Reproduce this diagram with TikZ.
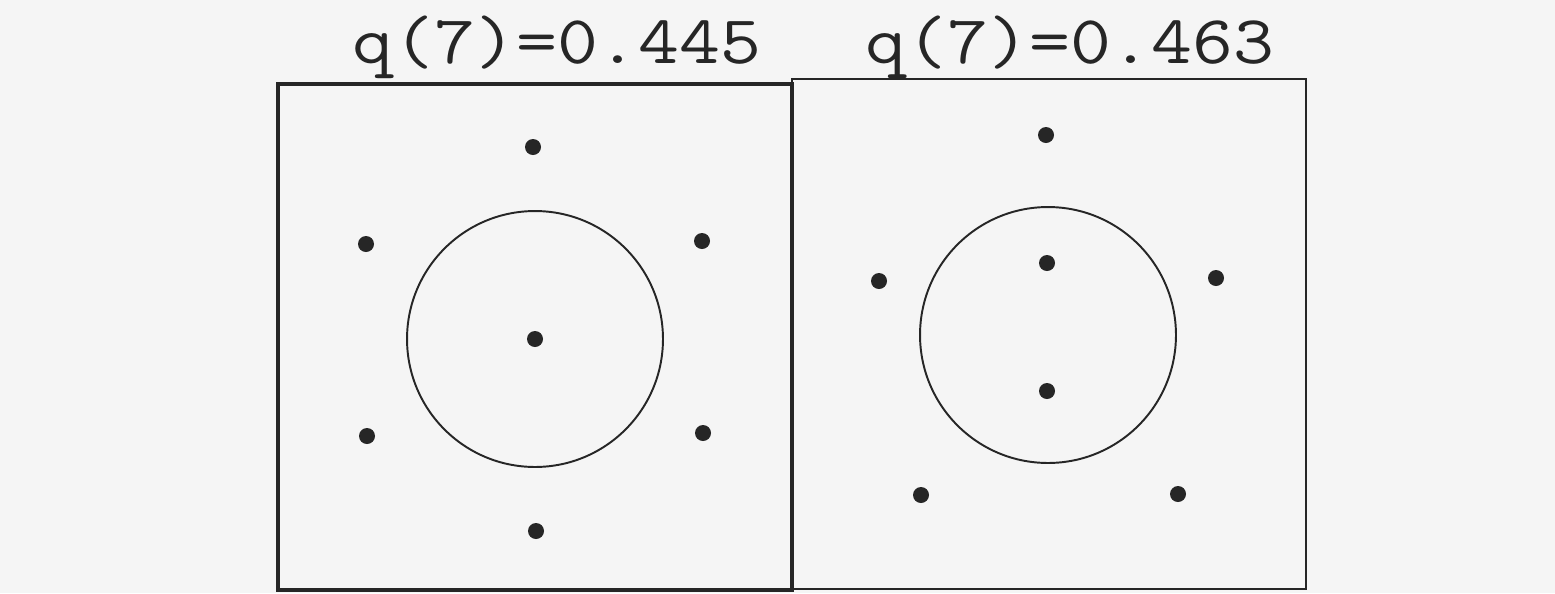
\documentclass[tikz,border=0pt]{standalone}
\usepackage{fontspec}
\usetikzlibrary{positioning}
\newcommand{\wide}[1]{\scalebox{1.16}[1]{#1}}

\begin{document}
\begin{tikzpicture}[x=0.02cm, y=-0.02cm,
      dot/.style={circle, fill=black!85, inner sep=0pt, minimum size=0.32cm},
      ring/.style={draw=black!85, circle, line width=1.1pt, inner sep=0pt, minimum size=5.12cm},
      heading/.style={font=\ttfamily\fontsize{39}{39}\selectfont, anchor=base, text=black!85},
      frame/.style={draw=black!85, line width=1.4pt}]
    \fill[black!4] (0,0) rectangle (1555,593);
    \useasboundingbox (0,0) rectangle (1555,593);
    % left panel
    \node[heading] (tl) at (557,63) {\wide{q(7)=0.445}};
    \draw[frame] (792,79) rectangle (1306,589);
    \draw[frame, line width=2.8pt] (278,84) rectangle (792,590);
    \node[ring] (cl) at (535,339) {};
    \node[dot] (l0) at (535,339) {};
    \node[dot] (l1) at (533,147) {};
    \node[dot] (l2) at (366,244) {};
    \node[dot] (l3) at (702,241) {};
    \node[dot] (l4) at (367,436) {};
    \node[dot] (l5) at (703,433) {};
    \node[dot] (l6) at (536,531) {};
    % right panel
    \node[heading] (tr) at (1070,63) {\wide{q(7)=0.463}};
    \node[ring] (cr) at (1048,335) {};
    \node[dot] (r1) at (1046,135) {};
    \node[dot] (r2) at (1047,263) {};
    \node[dot] (r3) at (1047,391) {};
    \node[dot] (r4) at (879,281) {};
    \node[dot] (r5) at (1216,278) {};
    \node[dot] (r6) at (921,495) {};
    \node[dot] (r7) at (1178,494) {};
\end{tikzpicture}
\end{document}
